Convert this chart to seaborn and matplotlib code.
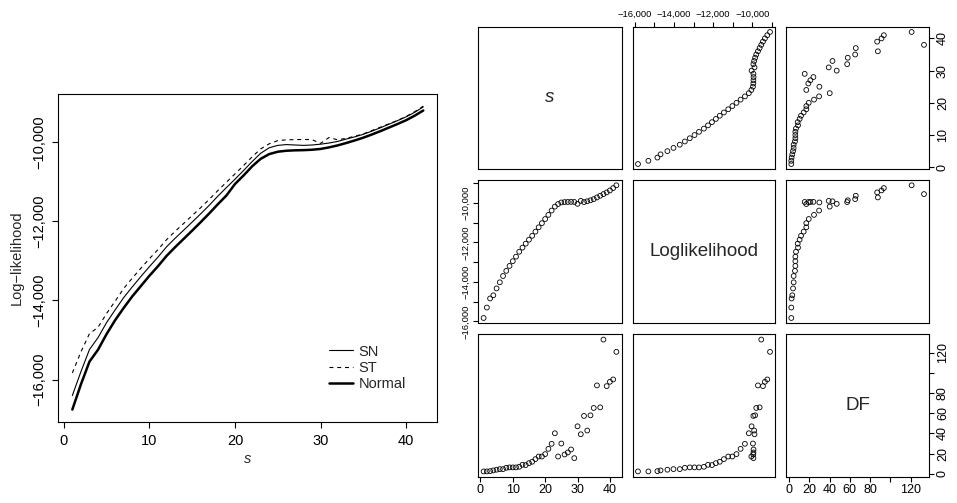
import numpy as np
import pandas as pd
import matplotlib
matplotlib.use("Agg")
import matplotlib.pyplot as plt
import seaborn as sns

# values
s_vals = list(range(1, 43))
ll_st = [-15830, -15300, -14840, -14680, -14330, -14020, -13700, -13440, -13190, -12950,
         -12720, -12470, -12260, -12060, -11860, -11660, -11450, -11230, -11020, -10810,
         -10600, -10380, -10180, -10050, -9970, -9950, -9945, -9940, -9945, -10040,
         -9890, -9950, -9910, -9860, -9800, -9715, -9630, -9545, -9460, -9360,
         -9240, -9100]
ll_sn = [-16400, -15800, -15240, -14940, -14560, -14240, -13930, -13660, -13400, -13150,
         -12910, -12650, -12435, -12230, -12025, -11815, -11600, -11370, -11155, -10945,
         -10725, -10500, -10290, -10150, -10090, -10070, -10080, -10090, -10080, -10060,
         -10030, -9990, -9930, -9875, -9810, -9730, -9645, -9555, -9465, -9370,
         -9255, -9120]
ll_normal = [-16754, -16120, -15545, -15245, -14850, -14500, -14190, -13900, -13640, -13380,
             -13140, -12880, -12660, -12450, -12240, -12025, -11805, -11575, -11355, -11065,
             -10850, -10620, -10430, -10310, -10250, -10225, -10215, -10210, -10200, -10180,
             -10140, -10090, -10030, -9965, -9895, -9815, -9730, -9640, -9550, -9455,
             -9340, -9210]
df_vals = [2.3, 2.3, 2.6, 3.3, 4.0, 4.6, 4.6, 5.9, 6.3, 6.3,
           6.3, 6.9, 8.9, 8.6, 10.5, 11.9, 14.5, 17.1, 17.1, 19.5,
           24.7, 29.7, 40.2, 17.1, 30.0, 19.1, 21.1, 24.1, 15.5, 47.1,
           39.2, 57.4, 42.9, 58.0, 65.3, 87.7, 65.9, 133.2, 87.0, 91.3,
           93.6, 121.0]

model_names = ['SN', 'ST', 'Normal']
var_names = ['s', 'Loglikelihood', 'DF']

left_xticks = [0, 10, 20, 30, 40]
left_yticks = [-16000, -14000, -12000, -10000]
left_ylabels = ['\u221216,000', '\u221214,000', '\u221212,000', '\u221210,000']

s_ticks = [0, 10, 20, 30, 40]
s_labels = ['0', '10', '20', '30', '40']
ll_ticks = [-16000, -15000, -14000, -13000, -12000, -11000, -10000, -9000]
ll_labels = ['\u221216,000', '', '\u221214,000', '', '\u221212,000', '', '\u221210,000', '']
df_ticks = [0, 20, 40, 60, 80, 100, 120]
df_labels = ['0', '20', '40', '60', '80', '', '120']

sns.set_style("ticks")
plt.rcParams['font.family'] = ['Liberation Sans', 'DejaVu Sans']
plt.rcParams['axes.edgecolor'] = 'black'
plt.rcParams['axes.linewidth'] = 0.8
plt.rcParams['xtick.color'] = 'black'
plt.rcParams['ytick.color'] = 'black'

W, H = 957, 503
fig = plt.figure(figsize=(W / 100, H / 100), dpi=100)


def box(l, t, r, b):
    # pixel box -> figure fraction
    return [l / W, 1 - b / H, (r - l) / W, (b - t) / H]


def r_lims(v):
    lo, hi = min(v), max(v)
    pad = 0.04 * (hi - lo)
    return lo - pad, hi + pad


# ---- left panel: log-likelihood curves ----
ax = fig.add_axes(box(58.3, 94, 437.3, 421.7))
sns.lineplot(x=s_vals, y=ll_sn, ax=ax, color='black', lw=0.8, label=model_names[0])
sns.lineplot(x=s_vals, y=ll_st, ax=ax, color='black', lw=0.8,
             linestyle=(0, (3.5, 3.5)), label=model_names[1])
sns.lineplot(x=s_vals, y=ll_normal, ax=ax, color='black', lw=1.8, label=model_names[2])
ax.set_xlim(r_lims(s_vals))
ax.set_ylim(r_lims(ll_normal + ll_sn + ll_st))
ax.set_xticks(left_xticks)
ax.set_xticklabels([str(t) for t in left_xticks])
ax.set_yticks(left_yticks)
ax.set_yticklabels(left_ylabels, rotation=90, va='center')
ax.tick_params(direction='out', length=4.5, width=0.8, labelsize=10.5, pad=4)
ax.set_xlabel('s', fontsize=10.5, style='italic', labelpad=3)
ax.set_ylabel('Log\u2212likelihood', fontsize=10.5, labelpad=6)
ax.legend(loc='lower right', bbox_to_anchor=(0.917, 0.094), frameon=False,
          fontsize=10.5, handlelength=1.7, handletextpad=0.35, labelspacing=0.15,
          borderpad=0, borderaxespad=0)

# ---- right: pairs plot ----
pairs = pd.DataFrame({'s': s_vals, 'Loglikelihood': ll_st, 'DF': df_vals})
cols_px = [(478.3, 621.7), (632.7, 775.3), (786.0, 929.3)]
rows_px = [(26.7, 169.3), (180.0, 323.3), (334.3, 476.7)]
lims = {v: r_lims(pairs[v].tolist()) for v in var_names}
ticks = {'s': (s_ticks, s_labels, 9),
         'Loglikelihood': (ll_ticks, ll_labels, 6.8),
         'DF': (df_ticks, df_labels, 9)}

for i, yv in enumerate(var_names):
    for j, xv in enumerate(var_names):
        (l, r), (t, b) = cols_px[j], rows_px[i]
        a = fig.add_axes(box(l, t, r, b))
        a.set_xlim(lims[xv])
        a.set_ylim(lims[yv])
        if i == j:
            a.text(0.5, 0.5, yv, transform=a.transAxes, ha='center', va='center',
                   fontsize=13.5, style='italic' if yv == 's' else 'normal')
        else:
            sns.scatterplot(data=pairs, x=xv, y=yv, ax=a, marker='o', s=12,
                            facecolor='none', edgecolor='black', linewidth=0.6)
        a.set_xlabel('')
        a.set_ylabel('')
        a.set_xticks([])
        a.set_yticks([])
        a.tick_params(direction='out', length=3.5, width=0.8, pad=2)
        # x axis: bottom row for s and DF, top row for Loglikelihood
        if (i == 2 and xv != 'Loglikelihood') or (i == 0 and xv == 'Loglikelihood'):
            tk, lb, fs = ticks[xv]
            a.set_xticks(tk)
            a.set_xticklabels(lb, fontsize=fs)
            if i == 0:
                a.xaxis.tick_top()
        # y axis: left column for Loglikelihood, right column for s and DF
        if (j == 0 and yv == 'Loglikelihood') or (j == 2 and yv != 'Loglikelihood'):
            tk, lb, fs = ticks[yv]
            a.set_yticks(tk)
            a.set_yticklabels(lb, fontsize=fs, rotation=90, va='center')
            if j == 2:
                a.yaxis.tick_right()

fig.savefig('out.png', dpi=100)
